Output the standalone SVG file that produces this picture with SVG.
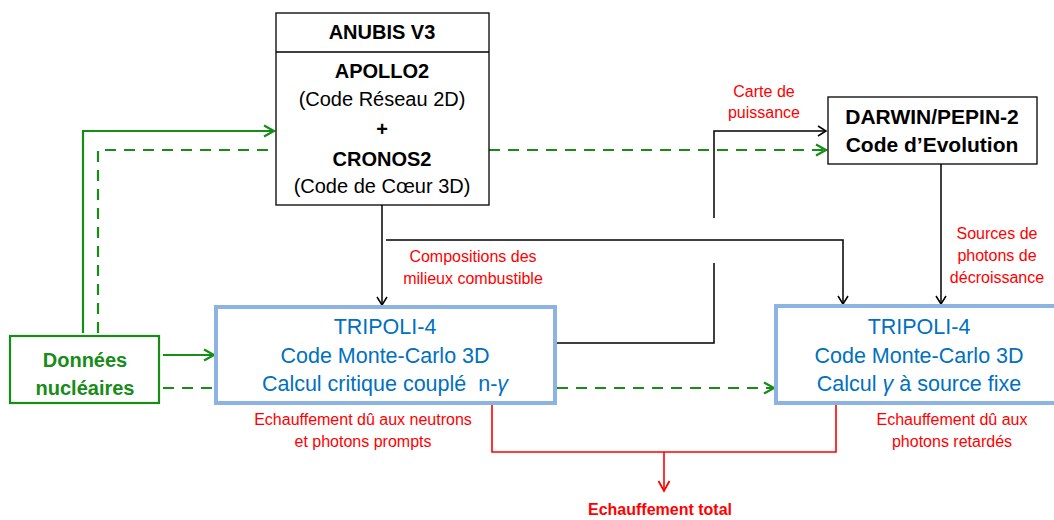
<svg xmlns="http://www.w3.org/2000/svg" width="1054" height="520" viewBox="0 0 1054 520">
<style>
.box{fill:#fff;stroke:#000;stroke-width:1.3}
.tri{fill:#fff;stroke:#8db3e2;stroke-width:4}
.don{fill:#fff;stroke:#178c17;stroke-width:2.2}
.t{font-family:"Liberation Sans",Arial,sans-serif;text-anchor:middle}
.bk{fill:#000;font-size:20px}
.bb{font-weight:bold}
.blue{fill:#0070c0;font-size:21.5px}
.red{fill:#ff0000;font-size:16px}
.grn{fill:#178c17;font-size:20px;font-weight:bold}
.k{fill:none;stroke:#000;stroke-width:1.5}
.g{fill:none;stroke:#178c17;stroke-width:2.2}
.gd{fill:none;stroke:#178c17;stroke-width:2.2;stroke-dasharray:11,8}
.r{fill:none;stroke:#ff0000;stroke-width:1.6}
</style>
<defs>
<marker id="ak" markerWidth="12" markerHeight="12" refX="9" refY="6" orient="auto" markerUnits="userSpaceOnUse"><path d="M1,1 L9,6 L1,11" fill="none" stroke="#000" stroke-width="1.5"/></marker>
<marker id="ag" markerWidth="14" markerHeight="14" refX="11" refY="7" orient="auto" markerUnits="userSpaceOnUse"><path d="M1,1.5 L11,7 L1,12.5" fill="none" stroke="#178c17" stroke-width="2.2"/></marker>
<marker id="ar" markerWidth="14" markerHeight="14" refX="11" refY="7" orient="auto" markerUnits="userSpaceOnUse"><path d="M1,1.5 L11,7 L1,12.5" fill="none" stroke="#ff0000" stroke-width="1.8"/></marker>
</defs>
<g id="connectors">
<path class="g" d="M83,333 V131 H274" marker-end="url(#ag)"/>
<path class="gd" d="M98,333 V150 H274"/>
<path class="g" d="M163,355 H214" marker-end="url(#ag)"/>
<path class="gd" d="M163,388 H212"/>
<path class="gd" d="M489,150 H826" marker-end="url(#ag)"/>
<path class="gd" d="M557,388 H774" marker-end="url(#ag)"/>
<path class="k" d="M382,205 V305" marker-end="url(#ak)"/>
<path class="k" d="M386,240 H843 V304" marker-end="url(#ak)"/>
<path class="k" d="M941,164 V304" marker-end="url(#ak)"/>
<path class="k" d="M557,343 H714 V263"/>
<path class="k" d="M714,218 V131 H826" marker-end="url(#ak)"/>
<path class="r" d="M492,405 V452 H836 V405"/>
<path class="r" d="M664,452 V491" marker-end="url(#ar)"/>
</g>
<g id="anubis">
<rect class="box" x="276" y="13" width="213" height="192"/>
<line x1="276" y1="52" x2="489" y2="52" stroke="#000" stroke-width="1.3"/>
<text class="t bk bb" x="382" y="39">ANUBIS V3</text>
<text class="t bk bb" x="382" y="78">APOLLO2</text>
<text class="t bk" x="382" y="106">(Code Réseau 2D)</text>
<text class="t bk bb" x="382" y="136">+</text>
<text class="t bk bb" x="382" y="166">CRONOS2</text>
<text class="t bk" x="382" y="193">(Code de Cœur 3D)</text>
</g>
<g id="darwin">
<rect class="box" x="828" y="97" width="209" height="67"/>
<text class="t bb" x="932" y="124" font-size="21px">DARWIN/PEPIN-2</text>
<text class="t bb" x="932" y="152" font-size="21px">Code d’Evolution</text>
</g>
<g id="donnees">
<rect class="don" x="10" y="336" width="149" height="67"/>
<text class="t grn" x="85" y="367">Données</text>
<text class="t grn" x="85" y="395">nucléaires</text>
</g>
<g id="tripoli1">
<rect class="tri" x="216" y="307" width="339" height="96"/>
<text class="t blue" x="385" y="334">TRIPOLI-4</text>
<text class="t blue" x="385" y="363">Code Monte-Carlo 3D</text>
<text class="t blue" x="385" y="391">Calcul critique couplé&#160; n-<tspan font-style="italic">γ</tspan></text>
</g>
<g id="tripoli2">
<rect class="tri" x="776" y="306" width="280" height="97"/>
<text class="t blue" x="919" y="334">TRIPOLI-4</text>
<text class="t blue" x="919" y="363">Code Monte-Carlo 3D</text>
<text class="t blue" x="919" y="391">Calcul <tspan font-style="italic">γ</tspan> à source fixe</text>
</g>
<g id="labels">
<text class="t red" x="764" y="97">Carte de</text>
<text class="t red" x="764" y="118">puissance</text>
<text class="t red" x="473" y="262">Compositions des</text>
<text class="t red" x="473" y="284">milieux combustible</text>
<text class="t red" x="997" y="239">Sources de</text>
<text class="t red" x="997" y="261">photons de</text>
<text class="t red" x="997" y="283">décroissance</text>
<text class="t red" x="363" y="425">Echauffement dû aux neutrons</text>
<text class="t red" x="363" y="447">et photons prompts</text>
<text class="t red" x="952" y="425">Echauffement dû aux</text>
<text class="t red" x="952" y="447">photons retardés</text>
<text class="t red bb" x="660" y="515" font-size="16.5px">Echauffement total</text>
</g>
</svg>
